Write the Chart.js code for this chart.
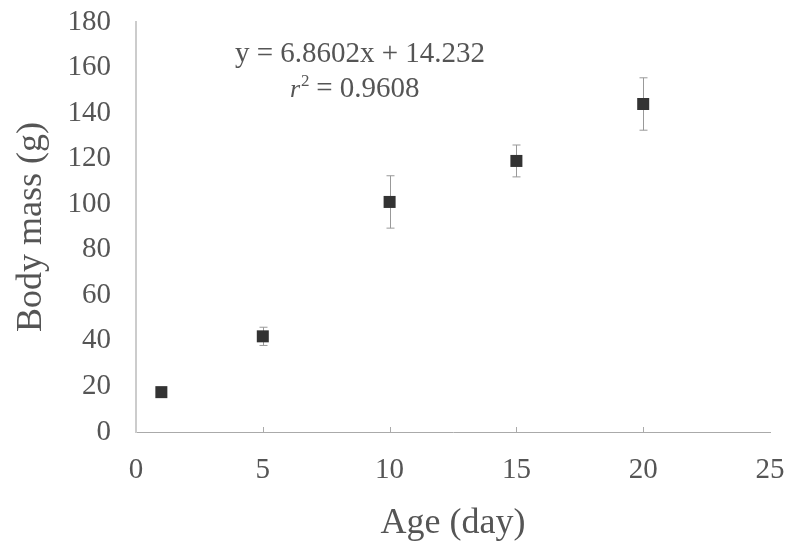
<!DOCTYPE html>
<html>
<head>
<meta charset="utf-8">
<script src="https://cdn.jsdelivr.net/npm/chart.js@4.4.1/dist/chart.umd.min.js"></script>
<style>
  html, body { margin: 0; padding: 0; background: #fff; }
  #wrap { width: 786px; height: 542px; }
</style>
</head>
<body>
<div id="wrap"><canvas id="massChart" width="786" height="542"></canvas></div>
<script>
// Dados do gráfico
const ages = [1, 5, 10, 15, 20];
const bodyMass = [17.5, 42, 101, 119, 144];
const massErr = [1, 4, 11.5, 7, 11.5];
const xTicks = [0, 5, 10, 15, 20, 25];
const yTicks = [0, 20, 40, 60, 80, 100, 120, 140, 160, 180];
const equationText = 'y = 6.8602x + 14.232';
const r2Text = '0.9608';

const serif = '"Liberation Serif", "Times New Roman", serif';
const textColor = '#555';

// Barras de erro e textos da regressão
const errorBarsPlugin = {
    id: 'errorBars',
    afterDatasetsDraw(chart) {
        const ctx = chart.ctx;
        const xs = chart.scales.x;
        const ys = chart.scales.y;
        ctx.save();
        ctx.strokeStyle = '#999';
        ctx.lineWidth = 1;
        ages.forEach((a, i) => {
            const px = Math.round(xs.getPixelForValue(a)) + 0.5;
            const top = ys.getPixelForValue(bodyMass[i] + massErr[i]);
            const bot = ys.getPixelForValue(bodyMass[i] - massErr[i]);
            ctx.beginPath();
            ctx.moveTo(px, top);
            ctx.lineTo(px, bot);
            ctx.moveTo(px - 4, top);
            ctx.lineTo(px + 4, top);
            ctx.moveTo(px - 4, bot);
            ctx.lineTo(px + 4, bot);
            ctx.stroke();
        });
        // pequenas marcas no eixo x
        ctx.strokeStyle = '#aaa';
        xTicks.slice(1, -1).forEach(t => {
            const px = Math.round(xs.getPixelForValue(t)) + 0.5;
            ctx.beginPath();
            ctx.moveTo(px, ys.bottom);
            ctx.lineTo(px, ys.bottom - 5);
            ctx.stroke();
        });
        ctx.restore();

        // redesenha os marcadores por cima das barras
        const meta = chart.getDatasetMeta(0);
        ctx.save();
        ctx.fillStyle = '#333';
        meta.data.forEach(pt => {
            ctx.fillRect(pt.x - 6, pt.y - 6, 12, 12);
        });
        ctx.restore();

        // equação
        ctx.save();
        ctx.fillStyle = textColor;
        ctx.textBaseline = 'alphabetic';
        ctx.textAlign = 'center';
        ctx.font = '29px ' + serif;
        ctx.fillText(equationText, 360, 62);
        ctx.textAlign = 'left';
        ctx.font = 'italic 26px ' + serif;
        const rx = 290;
        ctx.fillText('r', rx, 97);
        ctx.font = '17px ' + serif;
        ctx.fillText('2', rx + 11, 86);
        ctx.font = '29px ' + serif;
        ctx.fillText(' = ' + r2Text, rx + 19, 97);
        ctx.restore();
    }
};

new Chart(document.getElementById('massChart').getContext('2d'), {
    type: 'scatter',
    data: {
        datasets: [{
            label: 'Body mass',
            data: ages.map((a, i) => ({ x: a, y: bodyMass[i] })),
            pointStyle: 'rect',
            pointRadius: 7,
            backgroundColor: '#333',
            borderColor: '#333',
            borderWidth: 0
        }]
    },
    options: {
        responsive: false,
        animation: false,
        layout: { autoPadding: false, padding: { top: 22, right: 16, left: 0, bottom: 0 } },
        plugins: {
            legend: { display: false },
            tooltip: { enabled: false }
        },
        scales: {
            x: {
                type: 'linear',
                min: 0,
                max: 25,
                afterBuildTicks: s => { s.ticks = xTicks.map(v => ({ value: v })); },
                afterFit: s => {
                    s.height = 110;
                    s.paddingLeft = 0;
                    s.paddingRight = 0;
                },
                grid: { display: false },
                border: { display: true, color: '#aaa', width: 1 },
                ticks: { color: textColor, font: { family: serif, size: 29 }, padding: 13 },
                title: {
                    display: true,
                    text: 'Age (day)',
                    color: textColor,
                    font: { family: serif, size: 36 },
                    padding: { top: 0, bottom: -3 }
                }
            },
            y: {
                type: 'linear',
                min: 0,
                max: 180,
                afterBuildTicks: s => { s.ticks = yTicks.map(v => ({ value: v })); },
                afterFit: s => {
                    s.width = 136;
                    s.paddingTop = 0;
                    s.paddingBottom = 0;
                },
                grid: { display: false },
                border: { display: true, color: '#ccc', width: 2 },
                ticks: { color: textColor, font: { family: serif, size: 29 }, padding: 17 },
                title: {
                    display: true,
                    text: 'Body mass (g)',
                    color: textColor,
                    font: { family: serif, size: 36 },
                    padding: { top: 10, bottom: 0 }
                }
            }
        }
    },
    plugins: [errorBarsPlugin]
});
</script>
</body>
</html>
